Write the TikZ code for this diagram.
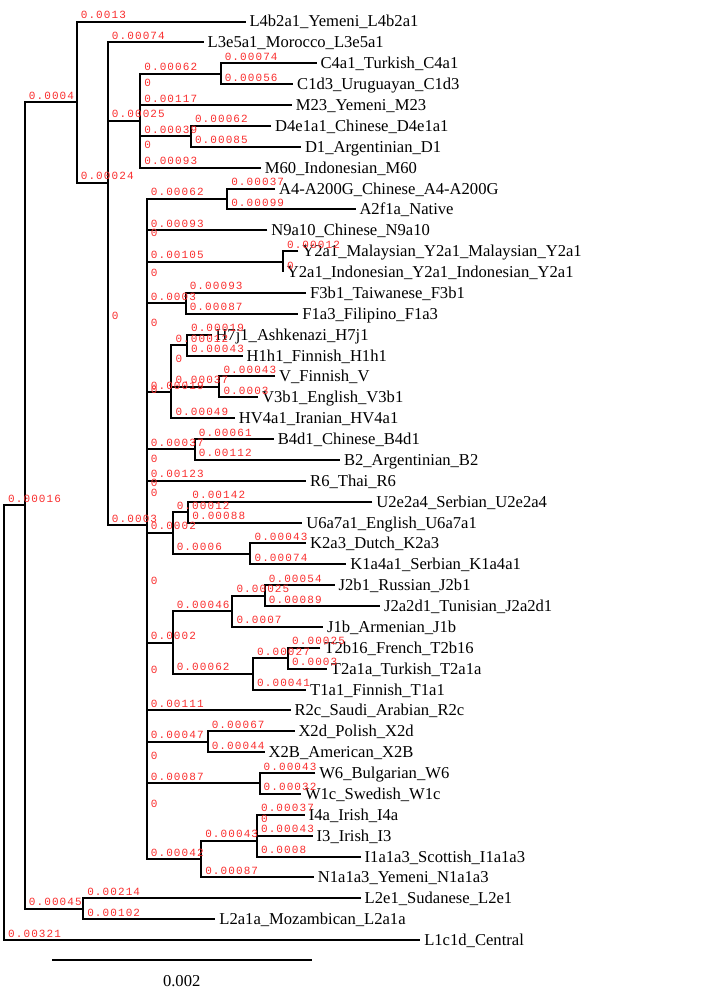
\documentclass[tikz,border=0pt]{standalone}
\usepackage{fontspec}
\setmainfont{Liberation Serif}
\newfontfamily\monolab[LetterSpace=10]{Liberation Mono}
\usetikzlibrary{calc}
\definecolor{labred}{RGB}{250,45,45}
\tikzset{
  edge/.style={line width=2pt, draw=black},
  blab/.style={text=labred, font=\monolab\fontsize{11}{11}\selectfont, anchor=base west, inner sep=0pt},
  leaf/.style={font=\fontsize{16.6}{16.6}\selectfont, anchor=base west, inner sep=0pt},
  scaletext/.style={font=\fontsize{16.6}{16.6}\selectfont, anchor=base, inner sep=0pt},
}
% bracket of an internal node #1 joining its two children #2 and #3
\newcommand\cladeb[3]{\draw[edge] (#2) -- (#1 |- #2) -- (#1 |- #3) -- (#3);}
% branch length written above the branch leading from #1 to #2
\newcommand\brlen[3]{\node[blab] (b-#2) at ($(#1 |- #2)+(4pt,3pt)$) {#3};}
% tip of a terminal branch with its taxon name
\newcommand\leafat[4]{\coordinate (#1) at (#2,#3); \node[leaf] (n-#1) at ($(#1)+(3.8pt,-5.5pt)$) {#4};}
\begin{document}
\begin{tikzpicture}[x=1pt,y=-1pt]
\fill[white] (0,0) rectangle (709,993);
\useasboundingbox (0,0) rectangle (709,993);

% internal nodes
\coordinate (R)   at (4,722.7);
\coordinate (A)   at (24.75,505.4);
\coordinate (B)   at (76.63,102.1);
\coordinate (C)   at (107.76,182.65);
\coordinate (Zc)  at (107.76,322.9);
\coordinate (D)   at (140.19,120.65);
\coordinate (Z1)  at (140.19,89.35);
\coordinate (Z2)  at (140.19,151.95);
\coordinate (C4n) at (220.6,73.7);
\coordinate (D4n) at (190.8,136.3);
\coordinate (E)   at (146.67,525.1);
\coordinate (Z240) at (146.67,239.3);
\coordinate (Z280) at (146.67,279.7);
\coordinate (Z329) at (146.67,329.1);
\coordinate (Z397) at (146.67,396.6);
\coordinate (Z490) at (146.67,489.85);
\coordinate (Z588) at (146.67,587.7);
\coordinate (Z499) at (146.67,499.0);
\coordinate (Z465) at (146.67,465.1);
\coordinate (Z676) at (146.67,676.45);
\coordinate (Z763) at (146.67,762.6);
\coordinate (Z811) at (146.67,810.85);
\coordinate (A4n) at (227.1,198.95);
\coordinate (Y2n) at (282.9,261.55);
\coordinate (Fn)  at (185.6,303.3);
\coordinate (HVn) at (171.3,392.0);
\coordinate (Zh)  at (171.3,365.9);
\coordinate (Hn)  at (186.9,345.05);
\coordinate (Vn)  at (219.3,386.8);
\coordinate (Bn)  at (194.7,449.45);
\coordinate (UKn) at (172.6,532.95);
\coordinate (Un)  at (188.2,512.05);
\coordinate (Kn)  at (250.4,553.8);
\coordinate (JTn) at (172.6,642.5);
\coordinate (Jn)  at (232.3,611.2);
\coordinate (J2n) at (264.7,595.55);
\coordinate (Tn)  at (253.0,673.85);
\coordinate (T2n) at (288.0,658.2);
\coordinate (Xn)  at (207.6,741.7);
\coordinate (Wn)  at (259.5,783.45);
\coordinate (INn) at (201.1,859.1);
\coordinate (In)  at (256.9,840.85);
\coordinate (Zi)  at (256.9,825.2);
\coordinate (L2n) at (83.1,908.7);

% terminal taxa
\leafat{t0}{245.5}{21.5}{L4b2a1\_Yemeni\_L4b2a1}
\leafat{t1}{203.7}{42.4}{L3e5a1\_Morocco\_L3e5a1}
\leafat{t2}{316.6}{63.25}{C4a1\_Turkish\_C4a1}
\leafat{t3}{293.2}{84.1}{C1d3\_Uruguayan\_C1d3}
\leafat{t4}{291.9}{105}{M23\_Yemeni\_M23}
\leafat{t5}{271.2}{125.9}{D4e1a1\_Chinese\_D4e1a1}
\leafat{t6}{301.0}{146.75}{D1\_Argentinian\_D1}
\leafat{t7}{260.8}{167.6}{M60\_Indonesian\_M60}
\leafat{t8}{275.1}{188.5}{A4-A200G\_Chinese\_A4-A200G}
\leafat{t9}{355.5}{209.4}{A2f1a\_Native}
\leafat{t10}{267.3}{230.25}{N9a10\_Chinese\_N9a10}
\leafat{t11}{298.4}{251.1}{Y2a1\_Malaysian\_Y2a1\_Malaysian\_Y2a1}
\leafat{t12}{282.9}{272}{Y2a1\_Indonesian\_Y2a1\_Indonesian\_Y2a1}
\leafat{t13}{306.2}{292.9}{F3b1\_Taiwanese\_F3b1}
\leafat{t14}{298.4}{313.75}{F1a3\_Filipino\_F1a3}
\leafat{t15}{211.5}{334.6}{H7j1\_Ashkenazi\_H7j1}
\leafat{t16}{242.7}{355.5}{H1h1\_Finnish\_H1h1}
\leafat{t17}{275.1}{376.4}{V\_Finnish\_V}
\leafat{t18}{258.2}{397.25}{V3b1\_English\_V3b1}
\leafat{t19}{234.9}{418.1}{HV4a1\_Iranian\_HV4a1}
\leafat{t20}{273.8}{439}{B4d1\_Chinese\_B4d1}
\leafat{t21}{340.0}{459.9}{B2\_Argentinian\_B2}
\leafat{t22}{306.2}{480.75}{R6\_Thai\_R6}
\leafat{t23}{372.4}{501.6}{U2e2a4\_Serbian\_U2e2a4}
\leafat{t24}{302.3}{522.5}{U6a7a1\_English\_U6a7a1}
\leafat{t25}{306.2}{543.4}{K2a3\_Dutch\_K2a3}
\leafat{t26}{346.4}{564.25}{K1a4a1\_Serbian\_K1a4a1}
\leafat{t27}{334.7}{585.1}{J2b1\_Russian\_J2b1}
\leafat{t28}{380.1}{606}{J2a2d1\_Tunisian\_J2a2d1}
\leafat{t29}{323.1}{626.9}{J1b\_Armenian\_J1b}
\leafat{t30}{320.4}{647.75}{T2b16\_French\_T2b16}
\leafat{t31}{326.9}{668.6}{T2a1a\_Turkish\_T2a1a}
\leafat{t32}{306.2}{689.5}{T1a1\_Finnish\_T1a1}
\leafat{t33}{290.6}{710.4}{R2c\_Saudi\_Arabian\_R2c}
\leafat{t34}{294.5}{731.25}{X2d\_Polish\_X2d}
\leafat{t35}{264.7}{752.1}{X2B\_American\_X2B}
\leafat{t36}{315.3}{773}{W6\_Bulgarian\_W6}
\leafat{t37}{301.0}{793.9}{W1c\_Swedish\_W1c}
\leafat{t38}{304.9}{814.75}{I4a\_Irish\_I4a}
\leafat{t39}{312.7}{835.6}{I3\_Irish\_I3}
\leafat{t40}{360.7}{856.5}{I1a1a3\_Scottish\_I1a1a3}
\leafat{t41}{313.9}{877.4}{N1a1a3\_Yemeni\_N1a1a3}
\leafat{t42}{360.7}{898.25}{L2e1\_Sudanese\_L2e1}
\leafat{t43}{215.4}{919.1}{L2a1a\_Mozambican\_L2a1a}
\leafat{t44}{420.3}{940}{L1c1d\_Central}

% branches
\cladeb{R}{A}{t44}
\cladeb{A}{B}{L2n}
\cladeb{B}{t0}{C}
\cladeb{C}{t1}{Zc}
\cladeb{Zc}{D}{E}
\cladeb{D}{Z1}{Z2}
\cladeb{Z1}{C4n}{t4}
\cladeb{C4n}{t2}{t3}
\cladeb{Z2}{D4n}{t7}
\cladeb{D4n}{t5}{t6}
\cladeb{E}{Z240}{Z811}
\cladeb{Z240}{A4n}{Z280}
\cladeb{A4n}{t8}{t9}
\cladeb{Z280}{t10}{Z329}
\cladeb{Z329}{Y2n}{Z397}
\cladeb{Y2n}{t11}{t12}
\cladeb{Z397}{Fn}{Z490}
\cladeb{Fn}{t13}{t14}
\cladeb{Z490}{HVn}{Z588}
\cladeb{HVn}{Zh}{t19}
\cladeb{Zh}{Hn}{Vn}
\cladeb{Hn}{t15}{t16}
\cladeb{Vn}{t17}{t18}
\cladeb{Z588}{Z499}{Z676}
\cladeb{Z499}{Z465}{UKn}
\cladeb{Z465}{Bn}{t22}
\cladeb{Bn}{t20}{t21}
\cladeb{UKn}{Un}{Kn}
\cladeb{Un}{t23}{t24}
\cladeb{Kn}{t25}{t26}
\cladeb{Z676}{JTn}{t33}
\cladeb{JTn}{Jn}{Tn}
\cladeb{Jn}{J2n}{t29}
\cladeb{J2n}{t27}{t28}
\cladeb{Tn}{T2n}{t32}
\cladeb{T2n}{t30}{t31}
\cladeb{Z811}{Z763}{INn}
\cladeb{Z763}{Xn}{Wn}
\cladeb{Xn}{t34}{t35}
\cladeb{Wn}{t36}{t37}
\cladeb{INn}{In}{t41}
\cladeb{In}{Zi}{t40}
\cladeb{Zi}{t38}{t39}
\cladeb{L2n}{t42}{t43}

% branch lengths
\brlen{R}{A}{0.00016}
\brlen{R}{t44}{0.00321}
\brlen{A}{B}{0.0004}
\brlen{A}{L2n}{0.00045}
\brlen{B}{t0}{0.0013}
\brlen{B}{C}{0.00024}
\brlen{C}{t1}{0.00074}
\brlen{C}{Zc}{0}
\brlen{Zc}{D}{0.00025}
\brlen{Zc}{E}{0.0003}
\brlen{D}{Z1}{0}
\brlen{D}{Z2}{0}
\brlen{Z1}{C4n}{0.00062}
\brlen{Z1}{t4}{0.00117}
\brlen{Z2}{D4n}{0.00039}
\brlen{Z2}{t7}{0.00093}
\brlen{C4n}{t2}{0.00074}
\brlen{C4n}{t3}{0.00056}
\brlen{D4n}{t5}{0.00062}
\brlen{D4n}{t6}{0.00085}
\brlen{E}{Z240}{0}
\brlen{E}{Z811}{0}
\brlen{Z240}{A4n}{0.00062}
\brlen{Z240}{Z280}{0}
\brlen{A4n}{t8}{0.00037}
\brlen{A4n}{t9}{0.00099}
\brlen{Z280}{t10}{0.00093}
\brlen{Z280}{Z329}{0}
\brlen{Z329}{Y2n}{0.00105}
\brlen{Z329}{Z397}{0}
\brlen{Y2n}{t11}{0.00012}
\brlen{Y2n}{t12}{0}
\brlen{Z397}{Fn}{0.0003}
\brlen{Z397}{Z490}{0}
\brlen{Fn}{t13}{0.00093}
\brlen{Fn}{t14}{0.00087}
\brlen{Z490}{HVn}{0.00019}
\brlen{Z490}{Z588}{0}
\brlen{HVn}{Zh}{0}
\brlen{HVn}{t19}{0.00049}
\brlen{Zh}{Hn}{0.00012}
\brlen{Zh}{Vn}{0.00037}
\brlen{Hn}{t15}{0.00019}
\brlen{Hn}{t16}{0.00043}
\brlen{Vn}{t17}{0.00043}
\brlen{Vn}{t18}{0.0003}
\brlen{Z588}{Z499}{0}
\brlen{Z588}{Z676}{0}
\brlen{Z499}{Z465}{0}
\brlen{Z499}{UKn}{0.0002}
\brlen{Z465}{Bn}{0.00037}
\brlen{Z465}{t22}{0.00123}
\brlen{Bn}{t20}{0.00061}
\brlen{Bn}{t21}{0.00112}
\brlen{UKn}{Un}{0.00012}
\brlen{UKn}{Kn}{0.0006}
\brlen{Un}{t23}{0.00142}
\brlen{Un}{t24}{0.00088}
\brlen{Kn}{t25}{0.00043}
\brlen{Kn}{t26}{0.00074}
\brlen{Z676}{JTn}{0.0002}
\brlen{Z676}{t33}{0.00111}
\brlen{JTn}{Jn}{0.00046}
\brlen{JTn}{Tn}{0.00062}
\brlen{Jn}{J2n}{0.00025}
\brlen{Jn}{t29}{0.0007}
\brlen{J2n}{t27}{0.00054}
\brlen{J2n}{t28}{0.00089}
\brlen{Tn}{T2n}{0.00027}
\brlen{Tn}{t32}{0.00041}
\brlen{T2n}{t30}{0.00025}
\brlen{T2n}{t31}{0.0003}
\brlen{Z811}{Z763}{0}
\brlen{Z811}{INn}{0.00042}
\brlen{Z763}{Xn}{0.00047}
\brlen{Z763}{Wn}{0.00087}
\brlen{Xn}{t34}{0.00067}
\brlen{Xn}{t35}{0.00044}
\brlen{Wn}{t36}{0.00043}
\brlen{Wn}{t37}{0.00032}
\brlen{INn}{In}{0.00043}
\brlen{INn}{t41}{0.00087}
\brlen{In}{Zi}{0}
\brlen{In}{t40}{0.0008}
\brlen{Zi}{t38}{0.00037}
\brlen{Zi}{t39}{0.00043}
\brlen{L2n}{t42}{0.00214}
\brlen{L2n}{t43}{0.00102}

% scale bar
\coordinate (sbL) at (52,960);
\coordinate (sbR) at (311.5,960);
\draw[edge] (sbL) -- (sbR);
\node[scaletext] (sbtext) at (181.7,986) {0.002};
\end{tikzpicture}
\end{document}
